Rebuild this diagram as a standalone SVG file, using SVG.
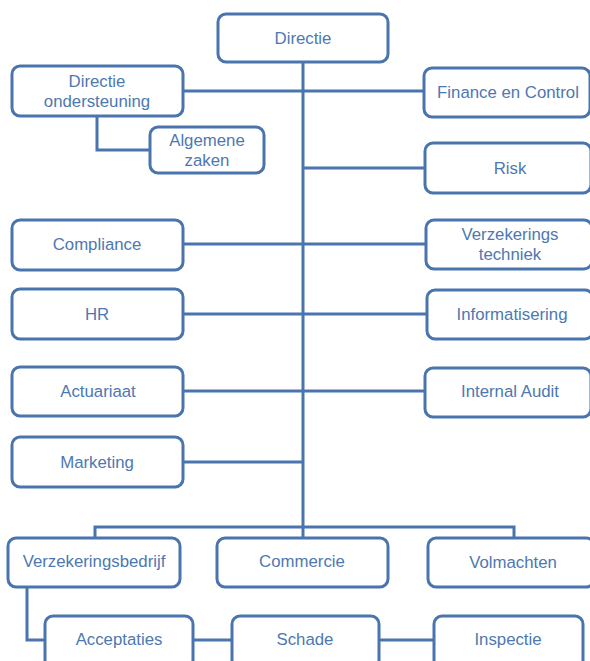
<svg xmlns="http://www.w3.org/2000/svg" width="590" height="661" viewBox="0 0 590 661">
<style>
.b{fill:#fff;stroke:#4a74ad;stroke-width:3}
.t{font-family:"Liberation Sans",Arial,sans-serif;font-size:16.8px;fill:#4d78b2;text-anchor:middle}
.c{fill:none;stroke:#4a74ad;stroke-width:3}
</style>
<rect width="590" height="661" fill="#fff"/>
<g id="connectors">
<path class="c" d="M303 62V527"/>
<path class="c" d="M183 91H424"/>
<path class="c" d="M97 116V150H150"/>
<path class="c" d="M303 168H425"/>
<path class="c" d="M183 244H426"/>
<path class="c" d="M183 314H427"/>
<path class="c" d="M183 391H425"/>
<path class="c" d="M183 462H303"/>
<path class="c" d="M95 538V527H514V538"/>
<path class="c" d="M303 527V538"/>
<path class="c" d="M27 587V640H45"/>
<path class="c" d="M193 640H232"/>
<path class="c" d="M379 640H434"/>
</g>
<g id="directie"><rect class="b" x="218" y="14" width="170" height="48" rx="8"/><text class="t" x="303" y="44">Directie</text></g>
<g id="directie-ondersteuning"><rect class="b" x="12" y="66" width="171" height="50" rx="8"/><text class="t" x="97" y="87">Directie</text><text class="t" x="97" y="107">ondersteuning</text></g>
<g id="finance"><rect class="b" x="424" y="68" width="166" height="49" rx="8"/><text class="t" x="508" y="98">Finance en Control</text></g>
<g id="algemene-zaken"><rect class="b" x="150" y="127" width="114" height="46" rx="8"/><text class="t" x="207" y="146">Algemene</text><text class="t" x="207" y="166">zaken</text></g>
<g id="risk"><rect class="b" x="425" y="143" width="166" height="50" rx="8"/><text class="t" x="510" y="174">Risk</text></g>
<g id="compliance"><rect class="b" x="12" y="220" width="171" height="50" rx="8"/><text class="t" x="97" y="250">Compliance</text></g>
<g id="verzekeringstechniek"><rect class="b" x="426" y="220" width="166" height="49" rx="8"/><text class="t" x="510" y="240">Verzekerings</text><text class="t" x="510" y="260">techniek</text></g>
<g id="hr"><rect class="b" x="12" y="289" width="171" height="50" rx="8"/><text class="t" x="97" y="320">HR</text></g>
<g id="informatisering"><rect class="b" x="427" y="290" width="166" height="49" rx="8"/><text class="t" x="512" y="320">Informatisering</text></g>
<g id="actuariaat"><rect class="b" x="12" y="367" width="171" height="49" rx="8"/><text class="t" x="98" y="397">Actuariaat</text></g>
<g id="internal-audit"><rect class="b" x="425" y="368" width="166" height="49" rx="8"/><text class="t" x="510" y="397">Internal Audit</text></g>
<g id="marketing"><rect class="b" x="12" y="437" width="171" height="50" rx="8"/><text class="t" x="97" y="468">Marketing</text></g>
<g id="verzekeringsbedrijf"><rect class="b" x="8" y="538" width="172" height="49" rx="8"/><text class="t" x="94" y="567">Verzekeringsbedrijf</text></g>
<g id="commercie"><rect class="b" x="217" y="538" width="171" height="49" rx="8"/><text class="t" x="302" y="567">Commercie</text></g>
<g id="volmachten"><rect class="b" x="428" y="538" width="166" height="49" rx="8"/><text class="t" x="513" y="568">Volmachten</text></g>
<g id="acceptaties"><rect class="b" x="45" y="616" width="148" height="52" rx="8"/><text class="t" x="119" y="645">Acceptaties</text></g>
<g id="schade"><rect class="b" x="232" y="616" width="147" height="52" rx="8"/><text class="t" x="305" y="645">Schade</text></g>
<g id="inspectie"><rect class="b" x="434" y="616" width="149" height="52" rx="8"/><text class="t" x="508" y="645">Inspectie</text></g>
</svg>
